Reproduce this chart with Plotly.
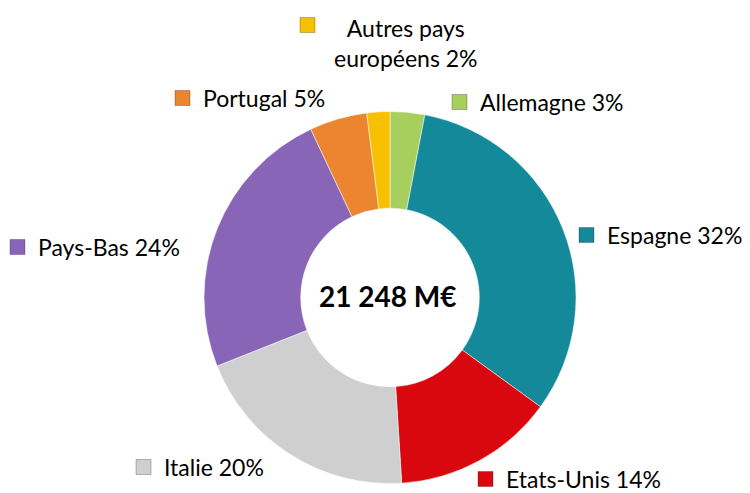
import plotly.graph_objects as go

# Répartition par pays (part en %)
pays = ["Allemagne", "Espagne", "Etats-Unis", "Italie", "Pays-Bas", "Portugal",
        "Autres pays<br>européens"]
parts = [3, 32, 14, 20, 24, 5, 2]
couleurs = ["#A6CF5E", "#14899A", "#D9080E", "#CFCFCF", "#8965B8", "#EC8530", "#F7C000"]
total_label = "21 248 M€"

W, H = 750, 493

# Placement des étiquettes (pixels, coin gauche du carré de couleur, centre vertical)
label_pos = {
    "Allemagne": (452, 102),
    "Espagne": (579, 235),
    "Etats-Unis": (478, 479),
    "Italie": (136, 467),
    "Pays-Bas": (10, 247),
    "Portugal": (175, 98),
    "Autres pays<br>européens": (300, 25),
}


def px(x):
    return x / W


def py(y):
    return 1 - y / H


# Anneau : centre (390, 297), rayon extérieur ~186 px
cx, cy, r = 390, 297.5, 186

fig = go.Figure(
    go.Pie(
        labels=pays,
        values=parts,
        marker=dict(colors=couleurs, line=dict(color="rgba(255,255,255,0.5)", width=1)),
        hole=0.48,
        sort=False,
        direction="clockwise",
        rotation=0,
        textinfo="none",
        hoverinfo="label+percent",
        domain=dict(x=[px(cx - r), px(cx + r)], y=[py(cy + r), py(cy - r)]),
        showlegend=False,
    )
)

font_lbl = dict(family="Lato, 'Open Sans', sans-serif", size=23, color="#000000")

annotations = []
shapes = []
for nom, val, col in zip(pays, parts, couleurs):
    x0, yc = label_pos[nom]
    shapes.append(dict(
        type="rect", xref="paper", yref="paper",
        x0=px(x0), x1=px(x0 + 15), y0=py(yc + 7.5), y1=py(yc - 7.5),
        fillcolor=col, line=dict(color="rgba(0,0,0,0.25)", width=1),
    ))
    if nom.startswith("Autres"):
        annotations.append(dict(
            text=f"Autres pays<br>européens {val}%",
            x=px(406), y=py(43), xref="paper", yref="paper",
            xanchor="center", yanchor="middle", showarrow=False,
            font=font_lbl, align="center",
        ))
    else:
        annotations.append(dict(
            text=f"{nom} {val}%",
            x=px(x0 + 26), y=py(yc), xref="paper", yref="paper",
            xanchor="left", yanchor="middle", showarrow=False,
            font=font_lbl,
        ))

annotations.append(dict(
    text=f"<b>{total_label}</b>",
    x=px(cx - 2), y=py(cy - 2), xref="paper", yref="paper",
    xanchor="center", yanchor="middle", showarrow=False,
    font=dict(family="Lato, 'Open Sans', sans-serif", size=28, color="#000000"),
))

fig.update_layout(
    width=W, height=H,
    margin=dict(l=0, r=0, t=0, b=0),
    paper_bgcolor="#FFFFFF",
    plot_bgcolor="#FFFFFF",
    annotations=annotations,
    shapes=shapes,
)

fig.write_html("out.html")
